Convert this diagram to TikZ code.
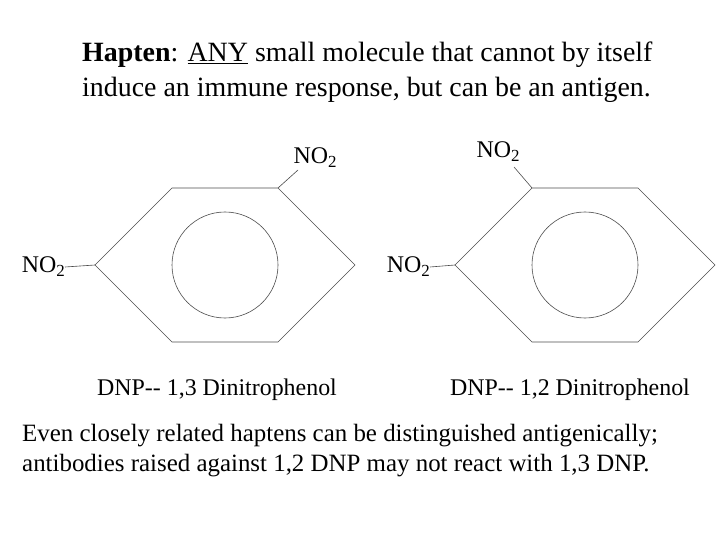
\documentclass[tikz,border=0pt]{standalone}
\usepackage{fontspec}
\setmainfont{Liberation Serif}
\newcommand{\nitro}{NO\raisebox{-0.35ex}{\fontsize{17}{18}\selectfont 2}}
\begin{document}
\begin{tikzpicture}[x=1bp,y=-1bp,
  line/.style={draw=black!70,line width=0.6bp},
  lab/.style={font=\fontsize{24}{28}\selectfont,inner sep=0pt},
  txt/.style={font=\fontsize{28}{35}\selectfont,inner sep=0pt,anchor=north west,align=left}]
\useasboundingbox (0,0) rectangle (720,540);
\node[txt] (title) at (82,42) {\textbf{Hapten}: \underline{ANY} small molecule that cannot by itself\\induce an immune response, but can be an antigen.};
% left ring
\coordinate (a1) at (172,188); \coordinate (a2) at (278,188); \coordinate (a3) at (355,265);
\coordinate (a4) at (278,342); \coordinate (a5) at (172,342); \coordinate (a6) at (95,265);
\draw[line] (a1)--(a2)--(a3)--(a4)--(a5)--(a6)--cycle;
\node[line,circle,minimum size=106bp,inner sep=0pt] (c1) at (225,265) {};
\node[lab,anchor=east] (n1) at (65,267) {\nitro};
\node[lab] (n2) at (315,158) {\nitro};
\draw[line] (n1.east) -- (a6);
\coordinate (t2) at (298,170);
\draw[line] (t2) -- (a2);
% right ring
\coordinate (b1) at (532,188); \coordinate (b2) at (638,188); \coordinate (b3) at (715,265);
\coordinate (b4) at (638,342); \coordinate (b5) at (532,342); \coordinate (b6) at (455,265);
\draw[line] (b1)--(b2)--(b3)--(b4)--(b5)--(b6)--cycle;
\node[line,circle,minimum size=106bp,inner sep=0pt] (c2) at (585,265) {};
\node[lab,anchor=east] (m1) at (430,267) {\nitro};
\node[lab] (m2) at (498,152) {\nitro};
\draw[line] (m1.east) -- (b6);
\coordinate (t3) at (514,167);
\draw[line] (t3) -- (b1);
\node[lab] (l1) at (217,390) {DNP-{}- 1,3 Dinitrophenol};
\node[lab] (l2) at (570,390) {DNP-{}- 1,2 Dinitrophenol};
\node[txt,font=\fontsize{25}{30}\selectfont] (foot) at (22,424) {Even closely related haptens can be distinguished antigenically;\\antibodies raised against 1,2 DNP may not react with 1,3 DNP.};
\end{tikzpicture}
\end{document}
